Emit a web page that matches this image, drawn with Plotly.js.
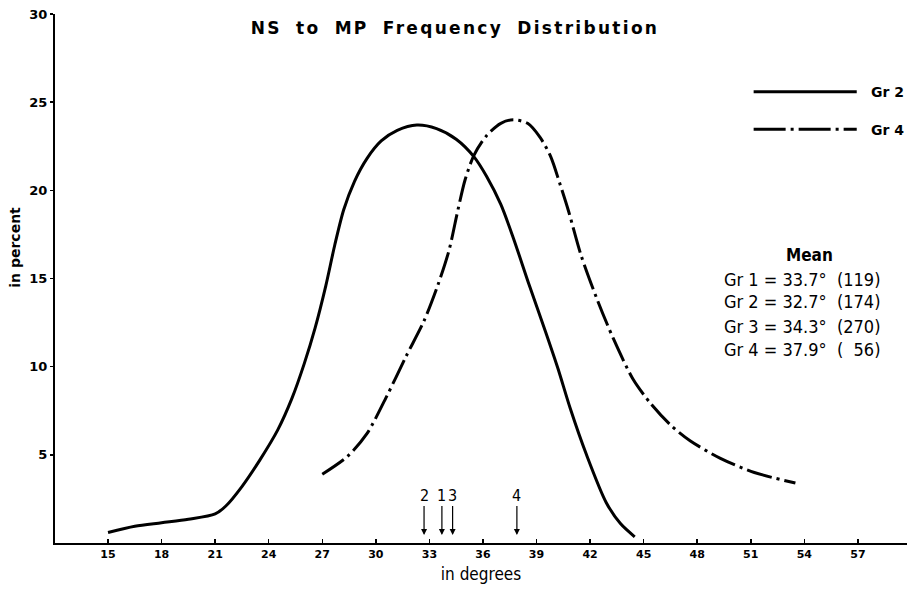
<!DOCTYPE html>
<html>
<head>
<meta charset="utf-8">
<script src="https://cdn.plot.ly/plotly-3.0.1.min.js"></script>
<style>
  html, body { margin: 0; padding: 0; background: #fff; }
  #chart { width: 910px; height: 589px; }
</style>
</head>
<body>
<div id="chart"></div>
<script>
// ---- data ----
const gr2X = [15, 16.5, 18, 19.5, 21, 21.6, 22.5, 23.5, 24.5, 25.3, 26.0, 26.6, 27.2, 27.7, 28.2, 28.8, 29.5, 30.3, 31.2, 32.3, 33.4, 34.5, 35.5, 36.2, 37.0, 37.7, 38.6, 39.5, 40.2, 40.9, 41.8, 42.9, 43.7, 44.5];
const gr2Y = [0.6, 0.95, 1.15, 1.35, 1.65, 2.1, 3.2, 4.7, 6.4, 8.2, 10.2, 12.2, 14.6, 16.9, 18.9, 20.5, 21.8, 22.8, 23.4, 23.7, 23.5, 22.9, 21.9, 20.8, 19.2, 17.3, 14.6, 12.0, 9.9, 7.6, 5.0, 2.3, 1.1, 0.35];

const gr4X = [27.0, 28.4, 29.5, 30.6, 31.7, 32.7, 33.5, 34.1, 34.6, 35.0, 35.5, 36.2, 37.0, 37.7, 38.5, 39.2, 39.8, 40.3, 40.8, 41.5, 42.4, 43.3, 44.4, 45.4, 46.5, 47.6, 49.3, 51.2, 53.5];
const gr4Y = [3.9, 4.9, 6.2, 8.3, 10.6, 12.6, 14.7, 16.6, 18.9, 20.6, 22.0, 23.1, 23.8, 24.0, 23.8, 23.0, 21.9, 20.4, 18.8, 16.3, 13.8, 11.6, 9.3, 7.9, 6.7, 5.8, 4.8, 4.0, 3.4];

const groupNums = [1, 2, 3, 4];
const groupMeans = [33.7, 32.7, 34.3, 37.9];
const groupCounts = [119, 174, 270, 56];

const xTicks = [15, 18, 21, 24, 27, 30, 33, 36, 39, 42, 45, 48, 51, 54, 57];
const yTicks = [5, 10, 15, 20, 25, 30];

const seriesNames = ['Gr 2', 'Gr 4'];
// --------------------------------------

const dashDot = '26px,5px,3px,5px';
const condensed = 'DejaVu Sans Condensed, DejaVu Sans, sans-serif';

const traces = [
  { x: gr2X, y: gr2Y, name: seriesNames[0], mode: 'lines',
    line: { color: '#000', width: 3, shape: 'spline', smoothing: 0.8 } },
  { x: gr4X, y: gr4Y, name: seriesNames[1], mode: 'lines',
    line: { color: '#000', width: 3, shape: 'spline', smoothing: 0.8, dash: dashDot } }
];

const annotations = [];
// mean arrows
groupNums.forEach((g, i) => {
  annotations.push({
    x: groupMeans[i], y: 0.45, xref: 'x', yref: 'y',
    text: String(g), showarrow: true, arrowhead: 2, arrowsize: 1, arrowwidth: 1.2,
    arrowcolor: '#000', ax: 0, ay: -40, standoff: 0,
    font: { family: condensed, size: 16, color: '#000' }
  });
});
// Mean block
annotations.push({
  x: 0.886, y: 0.544, xref: 'paper', yref: 'paper', xanchor: 'center', yanchor: 'middle',
  text: 'Mean', showarrow: false,
  font: { family: condensed, size: 17, color: '#000', weight: 'bold' }
});
const lineY = [0.499, 0.456, 0.410, 0.365];
groupNums.forEach((g, i) => {
  const c = String(groupCounts[i]).padStart(3, '\u2007');
  annotations.push({
    x: 0.783, y: lineY[i], xref: 'paper', yref: 'paper', xanchor: 'left', yanchor: 'middle',
    text: 'Gr ' + g + ' = ' + groupMeans[i].toFixed(1) + '°\u00a0 (' + c + ')',
    showarrow: false,
    font: { family: condensed, size: 18, color: '#000' }
  });
});
// legend labels
annotations.push({
  x: 0.955, y: 0.852, xref: 'paper', yref: 'paper', xanchor: 'left', yanchor: 'middle',
  text: seriesNames[0], showarrow: false,
  font: { family: 'DejaVu Sans, sans-serif', size: 14, color: '#000', weight: 'bold' }
});
annotations.push({
  x: 0.955, y: 0.781, xref: 'paper', yref: 'paper', xanchor: 'left', yanchor: 'middle',
  text: seriesNames[1], showarrow: false,
  font: { family: 'DejaVu Sans, sans-serif', size: 14, color: '#000', weight: 'bold' }
});
// y axis title
annotations.push({
  x: -0.047, y: 0.56, xref: 'paper', yref: 'paper', xanchor: 'center', yanchor: 'middle',
  text: 'in percent', textangle: -90, showarrow: false,
  font: { family: 'DejaVu Sans, sans-serif', size: 14, color: '#000', weight: 'bold' }
});

const shapes = [
  { type: 'line', xref: 'paper', yref: 'paper', x0: 0.820, x1: 0.941, y0: 0.853, y1: 0.853,
    line: { color: '#000', width: 3 } },
  { type: 'line', xref: 'paper', yref: 'paper', x0: 0.820, x1: 0.941, y0: 0.782, y1: 0.782,
    line: { color: '#000', width: 3, dash: '32px,5px,3px,5px' } }
];

const layout = {
  width: 910, height: 589,
  margin: { l: 55, r: 3, t: 14, b: 46 },
  paper_bgcolor: '#fff', plot_bgcolor: '#fff',
  showlegend: false,
  title: {
    text: 'NS to MP Frequency Distribution',
    font: { family: 'DejaVu Sans, sans-serif', size: 17, color: '#000', weight: 'bold' },
    x: 0.5, xref: 'container', xanchor: 'center',
    y: 1 - 28 / 589, yref: 'container', yanchor: 'middle'
  },
  xaxis: {
    range: [12.03, 59.75],
    tickvals: xTicks, ticktext: xTicks.map(String),
    ticks: 'inside', ticklen: 4, tickwidth: 1.5, tickcolor: '#000',
    showline: true, linewidth: 2, linecolor: '#000',
    showgrid: false, zeroline: false,
    tickfont: { family: 'DejaVu Sans, sans-serif', size: 11, color: '#000', weight: 'bold' },
    title: { text: 'in degrees', standoff: 8,
      font: { family: condensed, size: 17, color: '#000' } }
  },
  yaxis: {
    range: [0, 30],
    tickvals: yTicks, ticktext: yTicks.map(String),
    ticks: 'outside', ticklen: 3, tickwidth: 1.5, tickcolor: '#000',
    showline: true, linewidth: 2, linecolor: '#000',
    showgrid: false, zeroline: false,
    tickfont: { family: 'DejaVu Sans, sans-serif', size: 13, color: '#000', weight: 'bold' }
  },
  annotations: annotations,
  shapes: shapes
};

Plotly.newPlot('chart', traces, layout, { displayModeBar: false, staticPlot: true }).then(() => {
  const t = document.querySelector('.gtitle');
  if (t) { t.style.letterSpacing = '2.3px'; t.style.wordSpacing = '6px'; }
});
</script>
</body>
</html>
